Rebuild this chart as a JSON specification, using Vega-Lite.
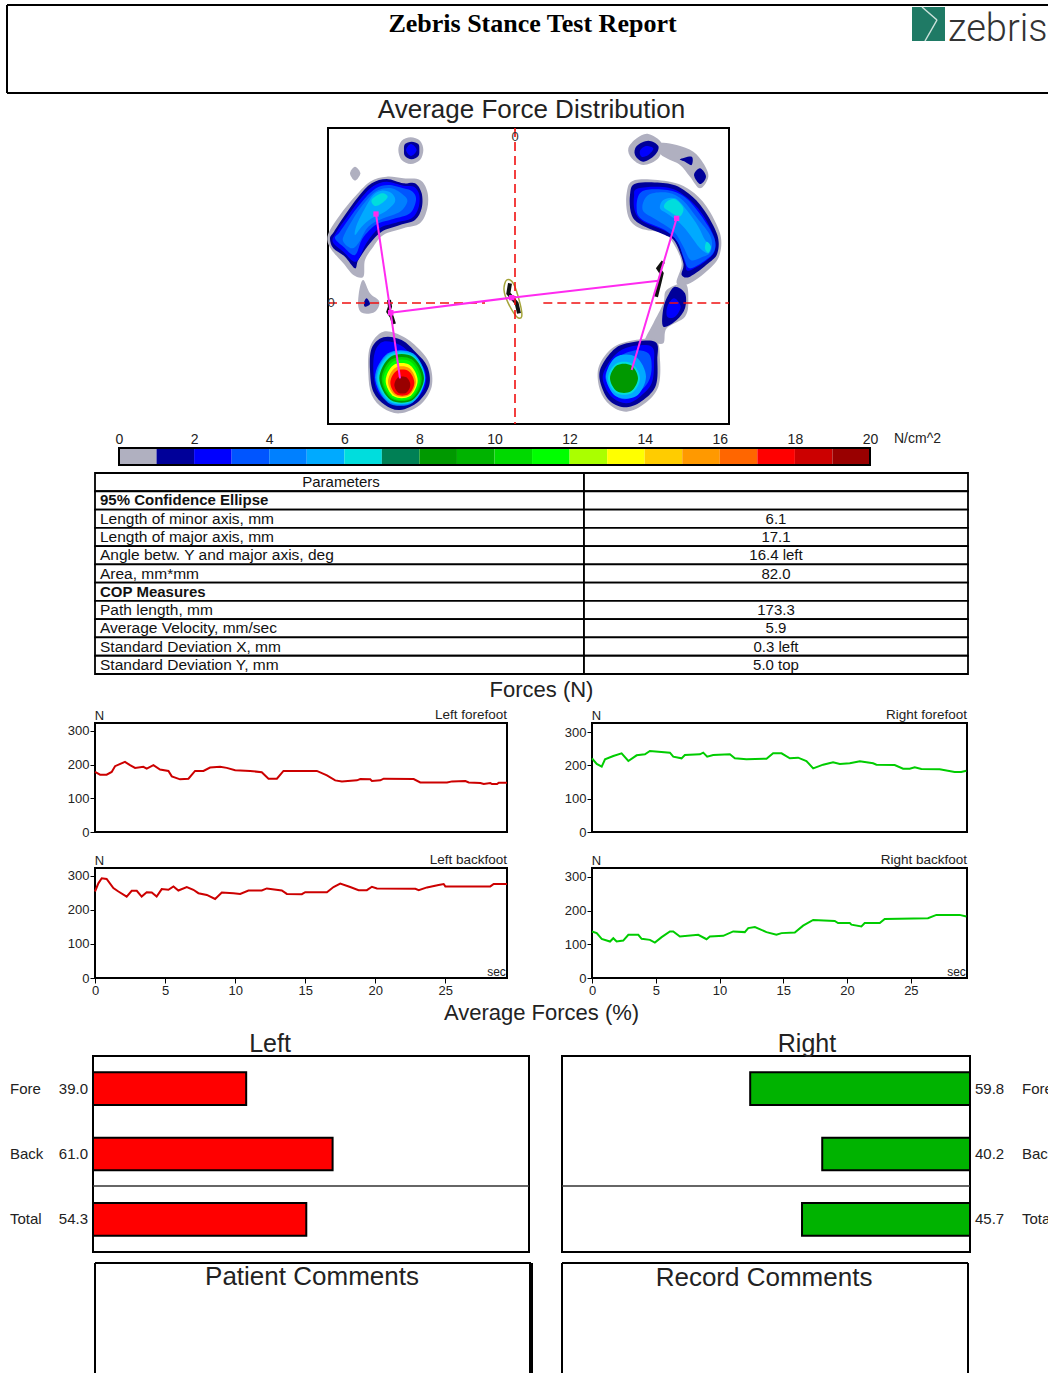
{"$schema":"https://vega.github.io/schema/vega-lite/v6.json","padding":0,"background":"white","bounds":"full","spacing":0,
"config":{"font":"Liberation Sans","view":{"stroke":null},"axis":{"grid":false,"domain":false,"labelColor":"#222","tickColor":"#000","titleColor":"#222","titleFontWeight":"normal","labelFont":"Liberation Sans","titleFont":"Liberation Sans"},"title":{"font":"Liberation Sans","fontWeight":"normal","color":"#222","frame":"group"}},
"data":{"values":[{"k":0}]},
"datasets":{
"polys":[
{"id":"g1","l":0,"s":1,"x":272,"y":52},{"id":"g1","l":0,"s":2,"x":300,"y":62},{"id":"g1","l":0,"s":3,"x":310,"y":90},{"id":"g1","l":0,"s":4,"x":300,"y":120},{"id":"g1","l":0,"s":5,"x":272,"y":132},{"id":"g1","l":0,"s":6,"x":245,"y":120},{"id":"g1","l":0,"s":7,"x":235,"y":90},{"id":"g1","l":0,"s":8,"x":245,"y":62},
{"id":"n1","l":1,"s":1,"x":275,"y":65},{"id":"n1","l":1,"s":2,"x":295,"y":72},{"id":"n1","l":1,"s":3,"x":298,"y":90},{"id":"n1","l":1,"s":4,"x":295,"y":108},{"id":"n1","l":1,"s":5,"x":275,"y":118},{"id":"n1","l":1,"s":6,"x":255,"y":108},{"id":"n1","l":1,"s":7,"x":252,"y":90},{"id":"n1","l":1,"s":8,"x":255,"y":72},
{"id":"b1","l":2,"s":1,"x":273,"y":72},{"id":"b1","l":2,"s":2,"x":290,"y":90},{"id":"b1","l":2,"s":3,"x":273,"y":108},{"id":"b1","l":2,"s":4,"x":258,"y":90},
{"id":"g2","l":0,"s":1,"x":105,"y":140},{"id":"g2","l":0,"s":2,"x":121,"y":160},{"id":"g2","l":0,"s":3,"x":105,"y":182},{"id":"g2","l":0,"s":4,"x":90,"y":160},
{"id":"g3","l":0,"s":1,"x":30,"y":330},{"id":"g3","l":0,"s":2,"x":60,"y":285},{"id":"g3","l":0,"s":3,"x":100,"y":235},{"id":"g3","l":0,"s":4,"x":150,"y":185},{"id":"g3","l":0,"s":5,"x":200,"y":170},{"id":"g3","l":0,"s":6,"x":250,"y":175},{"id":"g3","l":0,"s":7,"x":300,"y":180},{"id":"g3","l":0,"s":8,"x":322,"y":215},{"id":"g3","l":0,"s":9,"x":322,"y":265},{"id":"g3","l":0,"s":10,"x":300,"y":310},{"id":"g3","l":0,"s":11,"x":250,"y":325},{"id":"g3","l":0,"s":12,"x":190,"y":345},{"id":"g3","l":0,"s":13,"x":160,"y":380},{"id":"g3","l":0,"s":14,"x":135,"y":420},{"id":"g3","l":0,"s":15,"x":130,"y":470},{"id":"g3","l":0,"s":16,"x":100,"y":465},{"id":"g3","l":0,"s":17,"x":70,"y":430},{"id":"g3","l":0,"s":18,"x":35,"y":390},{"id":"g3","l":0,"s":19,"x":22,"y":360},
{"id":"n3","l":1,"s":1,"x":42,"y":335},{"id":"n3","l":1,"s":2,"x":75,"y":285},{"id":"n3","l":1,"s":3,"x":115,"y":230},{"id":"n3","l":1,"s":4,"x":155,"y":190},{"id":"n3","l":1,"s":5,"x":200,"y":177},{"id":"n3","l":1,"s":6,"x":250,"y":190},{"id":"n3","l":1,"s":7,"x":285,"y":190},{"id":"n3","l":1,"s":8,"x":305,"y":220},{"id":"n3","l":1,"s":9,"x":305,"y":265},{"id":"n3","l":1,"s":10,"x":285,"y":300},{"id":"n3","l":1,"s":11,"x":240,"y":315},{"id":"n3","l":1,"s":12,"x":185,"y":335},{"id":"n3","l":1,"s":13,"x":150,"y":370},{"id":"n3","l":1,"s":14,"x":115,"y":420},{"id":"n3","l":1,"s":15,"x":105,"y":445},{"id":"n3","l":1,"s":16,"x":75,"y":410},{"id":"n3","l":1,"s":17,"x":40,"y":385},{"id":"n3","l":1,"s":18,"x":30,"y":355},
{"id":"b3","l":2,"s":1,"x":50,"y":335},{"id":"b3","l":2,"s":2,"x":85,"y":285},{"id":"b3","l":2,"s":3,"x":125,"y":232},{"id":"b3","l":2,"s":4,"x":160,"y":198},{"id":"b3","l":2,"s":5,"x":200,"y":185},{"id":"b3","l":2,"s":6,"x":250,"y":197},{"id":"b3","l":2,"s":7,"x":282,"y":200},{"id":"b3","l":2,"s":8,"x":298,"y":225},{"id":"b3","l":2,"s":9,"x":295,"y":265},{"id":"b3","l":2,"s":10,"x":275,"y":295},{"id":"b3","l":2,"s":11,"x":228,"y":308},{"id":"b3","l":2,"s":12,"x":178,"y":325},{"id":"b3","l":2,"s":13,"x":140,"y":368},{"id":"b3","l":2,"s":14,"x":108,"y":425},{"id":"b3","l":2,"s":15,"x":70,"y":395},{"id":"b3","l":2,"s":16,"x":38,"y":365},
{"id":"c3","l":3,"s":1,"x":60,"y":335},{"id":"c3","l":3,"s":2,"x":95,"y":285},{"id":"c3","l":3,"s":3,"x":135,"y":235},{"id":"c3","l":3,"s":4,"x":168,"y":205},{"id":"c3","l":3,"s":5,"x":205,"y":195},{"id":"c3","l":3,"s":6,"x":250,"y":205},{"id":"c3","l":3,"s":7,"x":278,"y":215},{"id":"c3","l":3,"s":8,"x":288,"y":240},{"id":"c3","l":3,"s":9,"x":270,"y":280},{"id":"c3","l":3,"s":10,"x":220,"y":297},{"id":"c3","l":3,"s":11,"x":170,"y":313},{"id":"c3","l":3,"s":12,"x":128,"y":355},{"id":"c3","l":3,"s":13,"x":105,"y":405},{"id":"c3","l":3,"s":14,"x":70,"y":380},{"id":"c3","l":3,"s":15,"x":45,"y":355},
{"id":"d3","l":4,"s":1,"x":75,"y":340},{"id":"d3","l":4,"s":2,"x":110,"y":280},{"id":"d3","l":4,"s":3,"x":145,"y":235},{"id":"d3","l":4,"s":4,"x":175,"y":210},{"id":"d3","l":4,"s":5,"x":215,"y":205},{"id":"d3","l":4,"s":6,"x":250,"y":225},{"id":"d3","l":4,"s":7,"x":262,"y":245},{"id":"d3","l":4,"s":8,"x":240,"y":275},{"id":"d3","l":4,"s":9,"x":190,"y":295},{"id":"d3","l":4,"s":10,"x":145,"y":320},{"id":"d3","l":4,"s":11,"x":115,"y":370},{"id":"d3","l":4,"s":12,"x":95,"y":385},{"id":"d3","l":4,"s":13,"x":70,"y":365},
{"id":"e3","l":5,"s":1,"x":110,"y":315},{"id":"e3","l":5,"s":2,"x":135,"y":265},{"id":"e3","l":5,"s":3,"x":160,"y":225},{"id":"e3","l":5,"s":4,"x":185,"y":212},{"id":"e3","l":5,"s":5,"x":215,"y":220},{"id":"e3","l":5,"s":6,"x":225,"y":245},{"id":"e3","l":5,"s":7,"x":195,"y":275},{"id":"e3","l":5,"s":8,"x":155,"y":295},{"id":"e3","l":5,"s":9,"x":125,"y":320},{"id":"e3","l":5,"s":10,"x":105,"y":345},
{"id":"f3","l":6,"s":1,"x":155,"y":240},{"id":"f3","l":6,"s":2,"x":185,"y":220},{"id":"f3","l":6,"s":3,"x":203,"y":230},{"id":"f3","l":6,"s":4,"x":185,"y":250},{"id":"f3","l":6,"s":5,"x":165,"y":258},
{"id":"g4","l":0,"s":1,"x":130,"y":480},{"id":"g4","l":0,"s":2,"x":150,"y":520},{"id":"g4","l":0,"s":3,"x":178,"y":545},{"id":"g4","l":0,"s":4,"x":165,"y":575},{"id":"g4","l":0,"s":5,"x":130,"y":580},{"id":"g4","l":0,"s":6,"x":115,"y":560},{"id":"g4","l":0,"s":7,"x":118,"y":510},
{"id":"n4","l":1,"s":1,"x":140,"y":535},{"id":"n4","l":1,"s":2,"x":150,"y":552},{"id":"n4","l":1,"s":3,"x":135,"y":560},{"id":"n4","l":1,"s":4,"x":132,"y":548},
{"id":"g5","l":0,"s":1,"x":190,"y":635},{"id":"g5","l":0,"s":2,"x":250,"y":650},{"id":"g5","l":0,"s":3,"x":300,"y":690},{"id":"g5","l":0,"s":4,"x":330,"y":735},{"id":"g5","l":0,"s":5,"x":335,"y":800},{"id":"g5","l":0,"s":6,"x":300,"y":855},{"id":"g5","l":0,"s":7,"x":240,"y":880},{"id":"g5","l":0,"s":8,"x":190,"y":865},{"id":"g5","l":0,"s":9,"x":155,"y":825},{"id":"g5","l":0,"s":10,"x":145,"y":760},{"id":"g5","l":0,"s":11,"x":150,"y":680},
{"id":"n5","l":1,"s":1,"x":190,"y":652},{"id":"n5","l":1,"s":2,"x":245,"y":660},{"id":"n5","l":1,"s":3,"x":290,"y":700},{"id":"n5","l":1,"s":4,"x":322,"y":740},{"id":"n5","l":1,"s":5,"x":328,"y":795},{"id":"n5","l":1,"s":6,"x":295,"y":845},{"id":"n5","l":1,"s":7,"x":240,"y":870},{"id":"n5","l":1,"s":8,"x":195,"y":855},{"id":"n5","l":1,"s":9,"x":160,"y":815},{"id":"n5","l":1,"s":10,"x":150,"y":750},{"id":"n5","l":1,"s":11,"x":155,"y":685},
{"id":"b5","l":2,"s":1,"x":190,"y":665},{"id":"b5","l":2,"s":2,"x":240,"y":675},{"id":"b5","l":2,"s":3,"x":280,"y":710},{"id":"b5","l":2,"s":4,"x":315,"y":750},{"id":"b5","l":2,"s":5,"x":315,"y":800},{"id":"b5","l":2,"s":6,"x":285,"y":840},{"id":"b5","l":2,"s":7,"x":240,"y":858},{"id":"b5","l":2,"s":8,"x":200,"y":842},{"id":"b5","l":2,"s":9,"x":170,"y":810},{"id":"b5","l":2,"s":10,"x":160,"y":750},{"id":"b5","l":2,"s":11,"x":165,"y":695},
{"id":"h4","l":4,"s":1,"x":312,"y":772},{"id":"h4","l":4,"s":2,"x":278,"y":848},{"id":"h4","l":4,"s":3,"x":204,"y":848},{"id":"h4","l":4,"s":4,"x":165,"y":772},{"id":"h4","l":4,"s":5,"x":204,"y":700},{"id":"h4","l":4,"s":6,"x":278,"y":700},
{"id":"h5","l":5,"s":1,"x":316,"y":773},{"id":"h5","l":5,"s":2,"x":280,"y":845},{"id":"h5","l":5,"s":3,"x":206,"y":845},{"id":"h5","l":5,"s":4,"x":169,"y":773},{"id":"h5","l":5,"s":5,"x":206,"y":701},{"id":"h5","l":5,"s":6,"x":280,"y":701},
{"id":"h6","l":6,"s":1,"x":314,"y":774},{"id":"h6","l":6,"s":2,"x":278,"y":843},{"id":"h6","l":6,"s":3,"x":208,"y":843},{"id":"h6","l":6,"s":4,"x":172,"y":774},{"id":"h6","l":6,"s":5,"x":208,"y":705},{"id":"h6","l":6,"s":6,"x":278,"y":705},
{"id":"h8","l":8,"s":1,"x":312,"y":775},{"id":"h8","l":8,"s":2,"x":278,"y":840},{"id":"h8","l":8,"s":3,"x":212,"y":840},{"id":"h8","l":8,"s":4,"x":178,"y":775},{"id":"h8","l":8,"s":5,"x":212,"y":710},{"id":"h8","l":8,"s":6,"x":278,"y":710},
{"id":"h10","l":10,"s":1,"x":305,"y":777},{"id":"h10","l":10,"s":2,"x":275,"y":836},{"id":"h10","l":10,"s":3,"x":215,"y":836},{"id":"h10","l":10,"s":4,"x":185,"y":777},{"id":"h10","l":10,"s":5,"x":215,"y":718},{"id":"h10","l":10,"s":6,"x":275,"y":718},
{"id":"h11","l":11,"s":1,"x":300,"y":779},{"id":"h11","l":11,"s":2,"x":272,"y":833},{"id":"h11","l":11,"s":3,"x":218,"y":833},{"id":"h11","l":11,"s":4,"x":190,"y":779},{"id":"h11","l":11,"s":5,"x":218,"y":725},{"id":"h11","l":11,"s":6,"x":272,"y":725},
{"id":"h13","l":13,"s":1,"x":293,"y":782},{"id":"h13","l":13,"s":2,"x":269,"y":829},{"id":"h13","l":13,"s":3,"x":221,"y":829},{"id":"h13","l":13,"s":4,"x":197,"y":782},{"id":"h13","l":13,"s":5,"x":221,"y":735},{"id":"h13","l":13,"s":6,"x":269,"y":735},
{"id":"h15","l":15,"s":1,"x":288,"y":785},{"id":"h15","l":15,"s":2,"x":267,"y":826},{"id":"h15","l":15,"s":3,"x":225,"y":826},{"id":"h15","l":15,"s":4,"x":204,"y":785},{"id":"h15","l":15,"s":5,"x":225,"y":744},{"id":"h15","l":15,"s":6,"x":267,"y":744},
{"id":"h17","l":17,"s":1,"x":283,"y":788},{"id":"h17","l":17,"s":2,"x":265,"y":823},{"id":"h17","l":17,"s":3,"x":229,"y":823},{"id":"h17","l":17,"s":4,"x":211,"y":788},{"id":"h17","l":17,"s":5,"x":229,"y":753},{"id":"h17","l":17,"s":6,"x":265,"y":753},
{"id":"h19","l":19,"s":1,"x":271,"y":795},{"id":"h19","l":19,"s":2,"x":259,"y":818},{"id":"h19","l":19,"s":3,"x":235,"y":818},{"id":"h19","l":19,"s":4,"x":223,"y":795},{"id":"h19","l":19,"s":5,"x":235,"y":772},{"id":"h19","l":19,"s":6,"x":259,"y":772},
{"id":"r1","l":0,"s":1,"x":985,"y":42},{"id":"r1","l":0,"s":2,"x":1025,"y":70},{"id":"r1","l":0,"s":3,"x":1015,"y":115},{"id":"r1","l":0,"s":4,"x":970,"y":135},{"id":"r1","l":0,"s":5,"x":935,"y":115},{"id":"r1","l":0,"s":6,"x":925,"y":85},{"id":"r1","l":0,"s":7,"x":950,"y":55},
{"id":"r2","l":0,"s":1,"x":1020,"y":70},{"id":"r2","l":0,"s":2,"x":1070,"y":75},{"id":"r2","l":0,"s":3,"x":1120,"y":95},{"id":"r2","l":0,"s":4,"x":1150,"y":130},{"id":"r2","l":0,"s":5,"x":1165,"y":170},{"id":"r2","l":0,"s":6,"x":1140,"y":205},{"id":"r2","l":0,"s":7,"x":1110,"y":170},{"id":"r2","l":0,"s":8,"x":1080,"y":135},{"id":"r2","l":0,"s":9,"x":1040,"y":115},{"id":"r2","l":0,"s":10,"x":1020,"y":100},
{"id":"r3","l":1,"s":1,"x":985,"y":62},{"id":"r3","l":1,"s":2,"x":1015,"y":78},{"id":"r3","l":1,"s":3,"x":1005,"y":105},{"id":"r3","l":1,"s":4,"x":970,"y":125},{"id":"r3","l":1,"s":5,"x":945,"y":105},{"id":"r3","l":1,"s":6,"x":950,"y":78},
{"id":"r4","l":2,"s":1,"x":978,"y":78},{"id":"r4","l":2,"s":2,"x":1000,"y":85},{"id":"r4","l":2,"s":3,"x":985,"y":105},{"id":"r4","l":2,"s":4,"x":965,"y":110},{"id":"r4","l":2,"s":5,"x":960,"y":92},
{"id":"r5","l":1,"s":1,"x":1140,"y":145},{"id":"r5","l":1,"s":2,"x":1158,"y":170},{"id":"r5","l":1,"s":3,"x":1140,"y":192},{"id":"r5","l":1,"s":4,"x":1122,"y":165},
{"id":"r6","l":1,"s":1,"x":1080,"y":118},{"id":"r6","l":1,"s":2,"x":1115,"y":110},{"id":"r6","l":1,"s":3,"x":1115,"y":135},{"id":"r6","l":1,"s":4,"x":1095,"y":125},
{"id":"r7","l":0,"s":1,"x":945,"y":180},{"id":"r7","l":0,"s":2,"x":1050,"y":185},{"id":"r7","l":0,"s":3,"x":1110,"y":210},{"id":"r7","l":0,"s":4,"x":1160,"y":260},{"id":"r7","l":0,"s":5,"x":1200,"y":340},{"id":"r7","l":0,"s":6,"x":1200,"y":400},{"id":"r7","l":0,"s":7,"x":1175,"y":440},{"id":"r7","l":0,"s":8,"x":1110,"y":490},{"id":"r7","l":0,"s":9,"x":1070,"y":490},{"id":"r7","l":0,"s":10,"x":1085,"y":430},{"id":"r7","l":0,"s":11,"x":1060,"y":370},{"id":"r7","l":0,"s":12,"x":1030,"y":340},{"id":"r7","l":0,"s":13,"x":960,"y":325},{"id":"r7","l":0,"s":14,"x":925,"y":290},{"id":"r7","l":0,"s":15,"x":920,"y":220},
{"id":"r8","l":0,"s":1,"x":1095,"y":490},{"id":"r8","l":0,"s":2,"x":1105,"y":540},{"id":"r8","l":0,"s":3,"x":1095,"y":590},{"id":"r8","l":0,"s":4,"x":1040,"y":625},{"id":"r8","l":0,"s":5,"x":1030,"y":670},{"id":"r8","l":0,"s":6,"x":995,"y":665},{"id":"r8","l":0,"s":7,"x":975,"y":660},{"id":"r8","l":0,"s":8,"x":1000,"y":610},{"id":"r8","l":0,"s":9,"x":1030,"y":550},{"id":"r8","l":0,"s":10,"x":1040,"y":510},
{"id":"r9","l":1,"s":1,"x":950,"y":190},{"id":"r9","l":1,"s":2,"x":1050,"y":192},{"id":"r9","l":1,"s":3,"x":1105,"y":220},{"id":"r9","l":1,"s":4,"x":1152,"y":270},{"id":"r9","l":1,"s":5,"x":1192,"y":345},{"id":"r9","l":1,"s":6,"x":1192,"y":400},{"id":"r9","l":1,"s":7,"x":1165,"y":430},{"id":"r9","l":1,"s":8,"x":1110,"y":470},{"id":"r9","l":1,"s":9,"x":1085,"y":465},{"id":"r9","l":1,"s":10,"x":1090,"y":430},{"id":"r9","l":1,"s":11,"x":1065,"y":365},{"id":"r9","l":1,"s":12,"x":1035,"y":345},{"id":"r9","l":1,"s":13,"x":965,"y":315},{"id":"r9","l":1,"s":14,"x":935,"y":285},{"id":"r9","l":1,"s":15,"x":930,"y":225},
{"id":"r10","l":2,"s":1,"x":955,"y":205},{"id":"r10","l":2,"s":2,"x":1045,"y":203},{"id":"r10","l":2,"s":3,"x":1100,"y":232},{"id":"r10","l":2,"s":4,"x":1145,"y":280},{"id":"r10","l":2,"s":5,"x":1182,"y":350},{"id":"r10","l":2,"s":6,"x":1183,"y":395},{"id":"r10","l":2,"s":7,"x":1155,"y":425},{"id":"r10","l":2,"s":8,"x":1105,"y":452},{"id":"r10","l":2,"s":9,"x":1095,"y":430},{"id":"r10","l":2,"s":10,"x":1075,"y":370},{"id":"r10","l":2,"s":11,"x":1040,"y":335},{"id":"r10","l":2,"s":12,"x":970,"y":305},{"id":"r10","l":2,"s":13,"x":945,"y":275},{"id":"r10","l":2,"s":14,"x":942,"y":230},
{"id":"r11","l":3,"s":1,"x":965,"y":215},{"id":"r11","l":3,"s":2,"x":1042,"y":210},{"id":"r11","l":3,"s":3,"x":1095,"y":232},{"id":"r11","l":3,"s":4,"x":1142,"y":285},{"id":"r11","l":3,"s":5,"x":1182,"y":352},{"id":"r11","l":3,"s":6,"x":1182,"y":395},{"id":"r11","l":3,"s":7,"x":1150,"y":425},{"id":"r11","l":3,"s":8,"x":1108,"y":445},{"id":"r11","l":3,"s":9,"x":1092,"y":415},{"id":"r11","l":3,"s":10,"x":1072,"y":365},{"id":"r11","l":3,"s":11,"x":1035,"y":330},{"id":"r11","l":3,"s":12,"x":968,"y":300},{"id":"r11","l":3,"s":13,"x":950,"y":268},
{"id":"r12","l":4,"s":1,"x":985,"y":225},{"id":"r12","l":4,"s":2,"x":1045,"y":218},{"id":"r12","l":4,"s":3,"x":1090,"y":242},{"id":"r12","l":4,"s":4,"x":1132,"y":295},{"id":"r12","l":4,"s":5,"x":1172,"y":350},{"id":"r12","l":4,"s":6,"x":1172,"y":395},{"id":"r12","l":4,"s":7,"x":1145,"y":412},{"id":"r12","l":4,"s":8,"x":1112,"y":420},{"id":"r12","l":4,"s":9,"x":1090,"y":380},{"id":"r12","l":4,"s":10,"x":1062,"y":335},{"id":"r12","l":4,"s":11,"x":1010,"y":300},{"id":"r12","l":4,"s":12,"x":968,"y":270},
{"id":"r13","l":5,"s":1,"x":1030,"y":240},{"id":"r13","l":5,"s":2,"x":1065,"y":235},{"id":"r13","l":5,"s":3,"x":1100,"y":270},{"id":"r13","l":5,"s":4,"x":1135,"y":320},{"id":"r13","l":5,"s":5,"x":1155,"y":360},{"id":"r13","l":5,"s":6,"x":1170,"y":375},{"id":"r13","l":5,"s":7,"x":1165,"y":400},{"id":"r13","l":5,"s":8,"x":1140,"y":385},{"id":"r13","l":5,"s":9,"x":1110,"y":345},{"id":"r13","l":5,"s":10,"x":1080,"y":310},{"id":"r13","l":5,"s":11,"x":1040,"y":280},{"id":"r13","l":5,"s":12,"x":1020,"y":265},
{"id":"r14","l":6,"s":1,"x":1040,"y":245},{"id":"r14","l":6,"s":2,"x":1065,"y":238},{"id":"r14","l":6,"s":3,"x":1090,"y":265},{"id":"r14","l":6,"s":4,"x":1078,"y":290},{"id":"r14","l":6,"s":5,"x":1050,"y":275},{"id":"r14","l":6,"s":6,"x":1032,"y":262},
{"id":"r15","l":6,"s":1,"x":1160,"y":365},{"id":"r15","l":6,"s":2,"x":1173,"y":380},{"id":"r15","l":6,"s":3,"x":1165,"y":398},{"id":"r15","l":6,"s":4,"x":1155,"y":385},
{"id":"r16","l":1,"s":1,"x":1065,"y":500},{"id":"r16","l":1,"s":2,"x":1095,"y":520},{"id":"r16","l":1,"s":3,"x":1095,"y":565},{"id":"r16","l":1,"s":4,"x":1070,"y":600},{"id":"r16","l":1,"s":5,"x":1030,"y":620},{"id":"r16","l":1,"s":6,"x":1030,"y":565},{"id":"r16","l":1,"s":7,"x":1045,"y":525},
{"id":"r17","l":2,"s":1,"x":1062,"y":535},{"id":"r17","l":2,"s":2,"x":1082,"y":560},{"id":"r17","l":2,"s":3,"x":1065,"y":590},{"id":"r17","l":2,"s":4,"x":1042,"y":590},{"id":"r17","l":2,"s":5,"x":1042,"y":560},
{"id":"r18","l":0,"s":1,"x":920,"y":665},{"id":"r18","l":0,"s":2,"x":1005,"y":660},{"id":"r18","l":0,"s":3,"x":1020,"y":720},{"id":"r18","l":0,"s":4,"x":1015,"y":800},{"id":"r18","l":0,"s":5,"x":975,"y":850},{"id":"r18","l":0,"s":6,"x":920,"y":875},{"id":"r18","l":0,"s":7,"x":870,"y":855},{"id":"r18","l":0,"s":8,"x":840,"y":810},{"id":"r18","l":0,"s":9,"x":835,"y":745},{"id":"r18","l":0,"s":10,"x":870,"y":690},
{"id":"r19","l":1,"s":1,"x":920,"y":670},{"id":"r19","l":1,"s":2,"x":1005,"y":665},{"id":"r19","l":1,"s":3,"x":1012,"y":720},{"id":"r19","l":1,"s":4,"x":1008,"y":795},{"id":"r19","l":1,"s":5,"x":970,"y":840},{"id":"r19","l":1,"s":6,"x":920,"y":862},{"id":"r19","l":1,"s":7,"x":872,"y":845},{"id":"r19","l":1,"s":8,"x":845,"y":800},{"id":"r19","l":1,"s":9,"x":840,"y":750},{"id":"r19","l":1,"s":10,"x":875,"y":695},
{"id":"r20","l":2,"s":1,"x":930,"y":680},{"id":"r20","l":2,"s":2,"x":995,"y":680},{"id":"r20","l":2,"s":3,"x":1002,"y":730},{"id":"r20","l":2,"s":4,"x":995,"y":790},{"id":"r20","l":2,"s":5,"x":960,"y":830},{"id":"r20","l":2,"s":6,"x":920,"y":850},{"id":"r20","l":2,"s":7,"x":880,"y":835},{"id":"r20","l":2,"s":8,"x":855,"y":800},{"id":"r20","l":2,"s":9,"x":850,"y":760},{"id":"r20","l":2,"s":10,"x":885,"y":705},
{"id":"r21","l":3,"s":1,"x":940,"y":692},{"id":"r21","l":3,"s":2,"x":985,"y":700},{"id":"r21","l":3,"s":3,"x":995,"y":740},{"id":"r21","l":3,"s":4,"x":985,"y":785},{"id":"r21","l":3,"s":5,"x":950,"y":822},{"id":"r21","l":3,"s":6,"x":915,"y":838},{"id":"r21","l":3,"s":7,"x":885,"y":825},{"id":"r21","l":3,"s":8,"x":862,"y":790},{"id":"r21","l":3,"s":9,"x":858,"y":760},{"id":"r21","l":3,"s":10,"x":890,"y":715},
{"id":"r22","l":5,"s":1,"x":978,"y":770},{"id":"r22","l":5,"s":2,"x":948,"y":829},{"id":"r22","l":5,"s":3,"x":888,"y":829},{"id":"r22","l":5,"s":4,"x":858,"y":770},{"id":"r22","l":5,"s":5,"x":888,"y":711},{"id":"r22","l":5,"s":6,"x":948,"y":711},
{"id":"r23","l":6,"s":1,"x":960,"y":775},{"id":"r23","l":6,"s":2,"x":936,"y":819},{"id":"r23","l":6,"s":3,"x":888,"y":819},{"id":"r23","l":6,"s":4,"x":864,"y":775},{"id":"r23","l":6,"s":5,"x":888,"y":731},{"id":"r23","l":6,"s":6,"x":936,"y":731},
{"id":"r24","l":8,"s":1,"x":954,"y":775},{"id":"r24","l":8,"s":2,"x":933,"y":814},{"id":"r24","l":8,"s":3,"x":891,"y":814},{"id":"r24","l":8,"s":4,"x":870,"y":775},{"id":"r24","l":8,"s":5,"x":891,"y":736},{"id":"r24","l":8,"s":6,"x":933,"y":736}
],
"traces":[
{"id":"t1","s":1,"x":207,"y":540},{"id":"t1","s":2,"x":210,"y":560},{"id":"t1","s":3,"x":205,"y":575},{"id":"t1","s":4,"x":215,"y":590},{"id":"t1","s":5,"x":222,"y":612},
{"id":"t2","s":1,"x":1030,"y":425},{"id":"t2","s":2,"x":1015,"y":445},{"id":"t2","s":3,"x":1025,"y":460},{"id":"t2","s":4,"x":1018,"y":490},{"id":"t2","s":5,"x":1008,"y":530},
{"id":"t3","s":1,"x":570,"y":490},{"id":"t3","s":2,"x":565,"y":520},{"id":"t3","s":3,"x":590,"y":550},{"id":"t3","s":4,"x":597,"y":580}
],
"ellipse":[{"s":1,"x":560,"y":480},{"s":2,"x":580,"y":490},{"s":3,"x":600,"y":550},{"s":4,"x":605,"y":590},{"s":5,"x":590,"y":590},{"s":6,"x":565,"y":550},{"s":7,"x":552,"y":510}],
"segments":[
{"k":"cross","x":585,"y":24,"x2":585,"y2":912},{"k":"cross","x":24,"y":549,"x2":495,"y2":549},{"k":"cross","x":670,"y":549,"x2":1227,"y2":549},
{"k":"pink","x":168,"y":282,"x2":212,"y2":578},{"k":"pink","x":212,"y":578,"x2":240,"y2":775},{"k":"pink","x":212,"y":578,"x2":575,"y2":533},{"k":"pink","x":575,"y":533,"x2":1015,"y2":482},{"k":"pink","x":1070,"y":295,"x2":935,"y2":750}
],
"zeros":[{"label":"0","x":585,"y":50},{"label":"0","x":33,"y":549}],
"colorbar":[{"a":0,"b":1,"l":0},{"a":1,"b":2,"l":1},{"a":2,"b":3,"l":2},{"a":3,"b":4,"l":3},{"a":4,"b":5,"l":4},{"a":5,"b":6,"l":5},{"a":6,"b":7,"l":6},{"a":7,"b":8,"l":7},{"a":8,"b":9,"l":8},{"a":9,"b":10,"l":9},{"a":10,"b":11,"l":10},{"a":11,"b":12,"l":11},{"a":12,"b":13,"l":12},{"a":13,"b":14,"l":13},{"a":14,"b":15,"l":14},{"a":15,"b":16,"l":15},{"a":16,"b":17,"l":16},{"a":17,"b":18,"l":17},{"a":18,"b":19,"l":18},{"a":19,"b":20,"l":19}],
"table":[
{"r":0,"param":"Parameters","value":"","kind":"head"},
{"r":1,"param":"95% Confidence Ellipse","value":"","kind":"bold"},
{"r":2,"param":"Length of minor axis, mm","value":"6.1","kind":"row"},
{"r":3,"param":"Length of major axis, mm","value":"17.1","kind":"row"},
{"r":4,"param":"Angle betw. Y and major axis, deg","value":"16.4 left","kind":"row"},
{"r":5,"param":"Area, mm*mm","value":"82.0","kind":"row"},
{"r":6,"param":"COP Measures","value":"","kind":"bold"},
{"r":7,"param":"Path length, mm","value":"173.3","kind":"row"},
{"r":8,"param":"Average Velocity, mm/sec","value":"5.9","kind":"row"},
{"r":9,"param":"Standard Deviation X, mm","value":"0.3 left","kind":"row"},
{"r":10,"param":"Standard Deviation Y, mm","value":"5.0 top","kind":"row"}
],
"forces":[
{"p":"LF","t":0,"v":178},{"p":"LF","t":0.36,"v":170},{"p":"LF","t":0.83,"v":170},{"p":"LF","t":1.19,"v":178},{"p":"LF","t":1.43,"v":195},{"p":"LF","t":2.14,"v":208},{"p":"LF","t":2.5,"v":198},{"p":"LF","t":2.86,"v":190},{"p":"LF","t":3.45,"v":193},{"p":"LF","t":3.69,"v":188},{"p":"LF","t":4.17,"v":198},{"p":"LF","t":4.64,"v":185},{"p":"LF","t":5.24,"v":181},{"p":"LF","t":5.48,"v":165},{"p":"LF","t":6.07,"v":156},{"p":"LF","t":6.67,"v":158},{"p":"LF","t":7.14,"v":181},{"p":"LF","t":7.74,"v":181},{"p":"LF","t":8.21,"v":191},{"p":"LF","t":8.93,"v":193},{"p":"LF","t":9.4,"v":190},{"p":"LF","t":10,"v":183},{"p":"LF","t":11.07,"v":181},{"p":"LF","t":11.9,"v":177},{"p":"LF","t":12.38,"v":158},{"p":"LF","t":12.98,"v":158},{"p":"LF","t":13.45,"v":181},{"p":"LF","t":15.83,"v":181},{"p":"LF","t":16.55,"v":168},{"p":"LF","t":17.14,"v":153},{"p":"LF","t":17.62,"v":150},{"p":"LF","t":18.69,"v":153},{"p":"LF","t":18.93,"v":157},{"p":"LF","t":19.64,"v":156},{"p":"LF","t":19.76,"v":151},{"p":"LF","t":20.36,"v":153},{"p":"LF","t":20.6,"v":158},{"p":"LF","t":22.74,"v":157},{"p":"LF","t":23.21,"v":147},{"p":"LF","t":25.12,"v":147},{"p":"LF","t":25.48,"v":150},{"p":"LF","t":26.43,"v":151},{"p":"LF","t":26.67,"v":147},{"p":"LF","t":27.5,"v":145},{"p":"LF","t":27.74,"v":142},{"p":"LF","t":28.21,"v":145},{"p":"LF","t":28.33,"v":142},{"p":"LF","t":28.69,"v":142},{"p":"LF","t":28.81,"v":146},{"p":"LF","t":29.4,"v":146},
{"p":"LB","t":0,"v":254},{"p":"LB","t":0.24,"v":278},{"p":"LB","t":0.48,"v":293},{"p":"LB","t":0.83,"v":291},{"p":"LB","t":1.31,"v":264},{"p":"LB","t":1.67,"v":254},{"p":"LB","t":2.26,"v":239},{"p":"LB","t":2.62,"v":256},{"p":"LB","t":2.98,"v":256},{"p":"LB","t":3.33,"v":239},{"p":"LB","t":3.69,"v":252},{"p":"LB","t":4.05,"v":251},{"p":"LB","t":4.4,"v":239},{"p":"LB","t":4.76,"v":261},{"p":"LB","t":5.24,"v":259},{"p":"LB","t":5.6,"v":269},{"p":"LB","t":5.95,"v":257},{"p":"LB","t":6.55,"v":267},{"p":"LB","t":7.02,"v":259},{"p":"LB","t":7.38,"v":249},{"p":"LB","t":7.98,"v":244},{"p":"LB","t":8.57,"v":232},{"p":"LB","t":9.05,"v":251},{"p":"LB","t":9.88,"v":249},{"p":"LB","t":10.36,"v":247},{"p":"LB","t":10.95,"v":257},{"p":"LB","t":11.9,"v":257},{"p":"LB","t":12.26,"v":263},{"p":"LB","t":13.33,"v":257},{"p":"LB","t":13.69,"v":247},{"p":"LB","t":14.76,"v":246},{"p":"LB","t":15,"v":252},{"p":"LB","t":16.55,"v":252},{"p":"LB","t":17.02,"v":267},{"p":"LB","t":17.5,"v":277},{"p":"LB","t":18.21,"v":267},{"p":"LB","t":18.81,"v":258},{"p":"LB","t":19.4,"v":258},{"p":"LB","t":19.76,"v":268},{"p":"LB","t":20.12,"v":263},{"p":"LB","t":22.86,"v":262},{"p":"LB","t":23.1,"v":258},{"p":"LB","t":23.69,"v":266},{"p":"LB","t":24.52,"v":273},{"p":"LB","t":24.88,"v":276},{"p":"LB","t":25,"v":269},{"p":"LB","t":28.21,"v":269},{"p":"LB","t":28.45,"v":276},{"p":"LB","t":29.4,"v":276},
{"p":"RF","t":0,"v":221},{"p":"RF","t":0.37,"v":204},{"p":"RF","t":0.76,"v":196},{"p":"RF","t":1.02,"v":218},{"p":"RF","t":1.67,"v":228},{"p":"RF","t":2.32,"v":236},{"p":"RF","t":2.85,"v":213},{"p":"RF","t":3.5,"v":230},{"p":"RF","t":4.15,"v":233},{"p":"RF","t":4.54,"v":243},{"p":"RF","t":6.11,"v":238},{"p":"RF","t":6.37,"v":226},{"p":"RF","t":7.02,"v":221},{"p":"RF","t":7.28,"v":231},{"p":"RF","t":8.46,"v":233},{"p":"RF","t":8.72,"v":238},{"p":"RF","t":9.03,"v":226},{"p":"RF","t":9.5,"v":231},{"p":"RF","t":10.81,"v":233},{"p":"RF","t":11.2,"v":221},{"p":"RF","t":12.11,"v":218},{"p":"RF","t":13.68,"v":220},{"p":"RF","t":14.2,"v":236},{"p":"RF","t":14.86,"v":236},{"p":"RF","t":15.51,"v":221},{"p":"RF","t":16.16,"v":223},{"p":"RF","t":16.81,"v":213},{"p":"RF","t":17.34,"v":191},{"p":"RF","t":18.12,"v":202},{"p":"RF","t":18.9,"v":209},{"p":"RF","t":19.43,"v":204},{"p":"RF","t":20.21,"v":206},{"p":"RF","t":21,"v":212},{"p":"RF","t":22.04,"v":206},{"p":"RF","t":22.3,"v":202},{"p":"RF","t":23.73,"v":201},{"p":"RF","t":24.39,"v":190},{"p":"RF","t":24.91,"v":190},{"p":"RF","t":25.3,"v":194},{"p":"RF","t":25.82,"v":189},{"p":"RF","t":27.26,"v":188},{"p":"RF","t":28.43,"v":180},{"p":"RF","t":28.95,"v":180},{"p":"RF","t":29.35,"v":184},
{"p":"RB","t":0,"v":138},{"p":"RB","t":0.37,"v":133},{"p":"RB","t":0.76,"v":116},{"p":"RB","t":1.41,"v":108},{"p":"RB","t":1.67,"v":118},{"p":"RB","t":1.93,"v":108},{"p":"RB","t":2.45,"v":111},{"p":"RB","t":2.85,"v":128},{"p":"RB","t":3.63,"v":128},{"p":"RB","t":3.89,"v":116},{"p":"RB","t":4.54,"v":113},{"p":"RB","t":4.93,"v":105},{"p":"RB","t":5.46,"v":121},{"p":"RB","t":6.11,"v":138},{"p":"RB","t":6.37,"v":138},{"p":"RB","t":6.89,"v":123},{"p":"RB","t":8.33,"v":128},{"p":"RB","t":8.98,"v":115},{"p":"RB","t":9.24,"v":123},{"p":"RB","t":10.29,"v":125},{"p":"RB","t":11.07,"v":138},{"p":"RB","t":11.98,"v":136},{"p":"RB","t":12.25,"v":148},{"p":"RB","t":12.77,"v":151},{"p":"RB","t":13.68,"v":136},{"p":"RB","t":14.46,"v":128},{"p":"RB","t":14.86,"v":133},{"p":"RB","t":15.9,"v":135},{"p":"RB","t":16.55,"v":155},{"p":"RB","t":17.34,"v":172},{"p":"RB","t":19.03,"v":169},{"p":"RB","t":19.29,"v":163},{"p":"RB","t":20.21,"v":163},{"p":"RB","t":20.34,"v":158},{"p":"RB","t":21.12,"v":153},{"p":"RB","t":21.38,"v":163},{"p":"RB","t":22.56,"v":163},{"p":"RB","t":22.95,"v":175},{"p":"RB","t":26.34,"v":177},{"p":"RB","t":27,"v":187},{"p":"RB","t":28.82,"v":187},{"p":"RB","t":29.35,"v":182}
],
"avgLeft":[{"c":"Fore","v":39.0,"txt":"39.0"},{"c":"Back","v":61.0,"txt":"61.0"},{"c":"Total","v":54.3,"txt":"54.3"}],
"avgRight":[{"c":"Fore","v":59.8,"txt":"59.8"},{"c":"Back","v":40.2,"txt":"40.2"},{"c":"Total","v":45.7,"txt":"45.7"}]
},
"vconcat":[
{"width":1,"height":4,"mark":{"type":"rect","opacity":0}},
{"bounds":"flush","spacing":0,"hconcat":[
{"width":7,"height":88,"mark":{"type":"rect","opacity":0}},
{"width":1041,"height":88,
 "title":{"text":"Zebris Stance Test Report","font":"Liberation Serif","fontWeight":"bold","fontSize":26,"color":"#000","anchor":"middle","dx":5,"offset":-33},
 "encoding":{"x":{"datum":0,"type":"quantitative","scale":{"domain":[0,1041],"nice":false},"axis":null},"y":{"datum":0,"type":"quantitative","scale":{"domain":[88,0],"nice":false},"axis":null}},
 "layer":[
  {"mark":{"type":"rule","stroke":"#000","strokeWidth":2},"encoding":{"x":{"datum":0},"x2":{"datum":1041},"y":{"datum":0}}},
  {"mark":{"type":"rule","stroke":"#000","strokeWidth":2},"encoding":{"x":{"datum":0},"x2":{"datum":1041},"y":{"datum":88}}},
  {"mark":{"type":"rule","stroke":"#000","strokeWidth":2},"encoding":{"x":{"datum":0},"y":{"datum":0},"y2":{"datum":88}}},
  {"mark":{"type":"rect","fill":"#1f7a65"},"encoding":{"x":{"datum":905},"x2":{"datum":938},"y":{"datum":2},"y2":{"datum":36}}},
  {"mark":{"type":"rule","stroke":"#cfe3dc","strokeWidth":1.5},"encoding":{"x":{"datum":915},"x2":{"datum":930},"y":{"datum":2},"y2":{"datum":15}}},
  {"mark":{"type":"rule","stroke":"#cfe3dc","strokeWidth":1.5},"encoding":{"x":{"datum":930},"x2":{"datum":918},"y":{"datum":15},"y2":{"datum":36}}},
  {"mark":{"type":"text","text":"zebris","font":"Roboto","fontWeight":300,"fontSize":38,"align":"left","baseline":"alphabetic","color":"#333"},"encoding":{"x":{"datum":941},"y":{"datum":36}}}
 ]}
]},
{"width":1,"height":2,"mark":{"type":"rect","opacity":0}},
{"bounds":"flush","spacing":0,"hconcat":[
{"width":328,"height":296,"mark":{"type":"rect","opacity":0}},
{"width":401,"height":296,"view":{"stroke":"#000","strokeWidth":2},
 "title":{"text":"Average Force Distribution","fontSize":26,"anchor":"middle","dx":3,"offset":4},
 "layer":[
  {"data":{"name":"polys"},"mark":{"type":"line","filled":true,"interpolate":"cardinal-closed","strokeWidth":0},
   "encoding":{"x":{"field":"x","type":"quantitative","scale":{"domain":[24,1227],"nice":false,"zero":false},"axis":null},
    "y":{"field":"y","type":"quantitative","scale":{"domain":[912,24],"nice":false,"zero":false},"axis":null},
    "detail":{"field":"id"},"order":{"field":"s"},
    "color":{"field":"l","type":"ordinal","legend":null,"scale":{"domain":[0,1,2,3,4,5,6,7,8,9,10,11,12,13,14,15,16,17,18,19],"range":["#b0b0c0","#000099","#0000ff","#0055ff","#0080ff","#00aaff","#00dddd","#008055","#009900","#00b300","#00d900","#00ff00","#aaff00","#ffff00","#ffcc00","#ff9900","#ff6600","#ff0000","#cc0000","#990000"]}}}},
  {"data":{"name":"traces"},"mark":{"type":"line","stroke":"#111","strokeWidth":4},"encoding":{"x":{"field":"x","type":"quantitative"},"y":{"field":"y","type":"quantitative"},"detail":{"field":"id"},"order":{"field":"s"}}},
  {"data":{"name":"ellipse"},"mark":{"type":"line","stroke":"#a5a53a","strokeWidth":1.5,"interpolate":"cardinal-closed"},"encoding":{"x":{"field":"x","type":"quantitative"},"y":{"field":"y","type":"quantitative"},"order":{"field":"s"}}},
  {"data":{"name":"segments"},"transform":[{"filter":"datum.k=='cross'"}],"mark":{"type":"rule","stroke":"#f01010","strokeWidth":1.6,"strokeDash":[9,5]},"encoding":{"x":{"field":"x","type":"quantitative"},"y":{"field":"y","type":"quantitative"},"x2":{"field":"x2"},"y2":{"field":"y2"}}},
  {"data":{"name":"segments"},"transform":[{"filter":"datum.k=='pink'"}],"mark":{"type":"rule","stroke":"#ff2bf0","strokeWidth":2},"encoding":{"x":{"field":"x","type":"quantitative"},"y":{"field":"y","type":"quantitative"},"x2":{"field":"x2"},"y2":{"field":"y2"}}},
  {"data":{"name":"segments"},"transform":[{"filter":"datum.k=='pink'"}],"mark":{"type":"point","shape":"square","filled":true,"color":"#ff2bf0","size":28,"opacity":1},"encoding":{"x":{"field":"x","type":"quantitative"},"y":{"field":"y","type":"quantitative"}}},
  {"data":{"name":"zeros"},"mark":{"type":"text","fontSize":13,"color":"#333"},"encoding":{"x":{"field":"x","type":"quantitative"},"y":{"field":"y","type":"quantitative"},"text":{"field":"label"}}}
 ]}
]},
{"width":1,"height":5,"mark":{"type":"rect","opacity":0}},
{"bounds":"flush","spacing":0,"hconcat":[
{"width":119,"height":17,"mark":{"type":"rect","opacity":0}},
{"width":751,"height":17,"data":{"name":"colorbar"},
 "layer":[
 {"mark":{"type":"rect"},
 "encoding":{"x":{"field":"a","type":"quantitative","scale":{"domain":[0,20],"nice":false},
   "axis":{"orient":"top","values":[0,2,4,6,8,10,12,14,16,18,20],"ticks":false,"labelFontSize":14,"labelPadding":2,"labelFlush":false,"title":"N/cm^2","titleFontSize":14,"titleX":798,"titleY":-3,"titleAlign":"center"}},
  "x2":{"field":"b"},
  "color":{"field":"l","type":"ordinal","legend":null,"scale":{"domain":[0,1,2,3,4,5,6,7,8,9,10,11,12,13,14,15,16,17,18,19],"range":["#b0b0c0","#000099","#0000ff","#0055ff","#0080ff","#00aaff","#00dddd","#008055","#009900","#00b300","#00d900","#00ff00","#aaff00","#ffff00","#ffcc00","#ff9900","#ff6600","#ff0000","#cc0000","#990000"]}}}},
 {"mark":{"type":"rect","fillOpacity":0,"stroke":"#000","strokeWidth":2},"encoding":{"x":{"datum":0,"type":"quantitative"},"x2":{"datum":20}}}
 ]}
]},
{"width":1,"height":6,"mark":{"type":"rect","opacity":0}},
{"bounds":"flush","spacing":0,"hconcat":[
{"width":95,"height":201,"mark":{"type":"rect","opacity":0}},
{"width":873,"height":201,"data":{"name":"table"},
 "encoding":{"y":{"field":"r","type":"ordinal","axis":null,"scale":{"type":"band","paddingInner":0,"paddingOuter":0}}},
 "layer":[
  {"mark":{"type":"rect","fill":"#fff","stroke":"#000","strokeWidth":1.8},"encoding":{"x":{"datum":0,"type":"quantitative","scale":{"domain":[0,873],"nice":false},"axis":null},"x2":{"datum":489}}},
  {"mark":{"type":"rect","fill":"#fff","stroke":"#000","strokeWidth":1.8},"encoding":{"x":{"datum":489,"type":"quantitative"},"x2":{"datum":873}}},
  {"transform":[{"filter":"datum.kind=='head'"}],"mark":{"type":"text","fontSize":15,"align":"center","color":"#111"},"encoding":{"x":{"datum":246,"type":"quantitative"},"text":{"field":"param"}}},
  {"transform":[{"filter":"datum.kind=='bold'"}],"mark":{"type":"text","fontSize":15,"fontWeight":"bold","align":"left","color":"#111"},"encoding":{"x":{"datum":5,"type":"quantitative"},"text":{"field":"param"}}},
  {"transform":[{"filter":"datum.kind=='row'"}],"mark":{"type":"text","fontSize":15.5,"align":"left","color":"#111"},"encoding":{"x":{"datum":5,"type":"quantitative"},"text":{"field":"param"}}},
  {"mark":{"type":"text","fontSize":15,"align":"center","color":"#111"},"encoding":{"x":{"datum":681,"type":"quantitative"},"text":{"field":"value"}}}
 ]}
]},
{"bounds":"flush","spacing":0,"hconcat":[
{"width":541,"height":31,"mark":{"type":"rect","opacity":0}},
{"width":1,"height":31,"title":{"text":"Forces (N)","fontSize":22,"anchor":"middle","offset":-27},"mark":{"type":"rect","opacity":0}}
]},
{"bounds":"flush","spacing":0,"hconcat":[
{"width":95,"height":109,"mark":{"type":"rect","opacity":0}},
{"width":412,"height":109,"view":{"stroke":"#000","strokeWidth":2},"data":{"name":"forces"},"transform":[{"filter":"datum.p=='LF'"}],
 "title":{"text":"Left forefoot","fontSize":13.5,"anchor":"end","offset":-12},
 "mark":{"type":"line","stroke":"#cc0000","strokeWidth":2},
 "encoding":{"x":{"field":"t","type":"quantitative","scale":{"domain":[0,29.4],"nice":false},"axis":null},
  "y":{"field":"v","type":"quantitative","scale":{"domain":[0,323],"nice":false},"axis":{"values":[0,100,200,300],"tickSize":5,"labelFontSize":13,"labelPadding":1,"title":"N","titleAngle":0,"titleFontSize":13,"titleX":4,"titleY":-4,"titleBaseline":"alphabetic","titleAlign":"center"}}}},
{"width":85,"height":109,"mark":{"type":"rect","opacity":0}},
{"width":375,"height":109,"view":{"stroke":"#000","strokeWidth":2},"data":{"name":"forces"},"transform":[{"filter":"datum.p=='RF'"}],
 "title":{"text":"Right forefoot","fontSize":13.5,"anchor":"end","offset":-12},
 "mark":{"type":"line","stroke":"#00cc00","strokeWidth":2},
 "encoding":{"x":{"field":"t","type":"quantitative","scale":{"domain":[0,29.4],"nice":false},"axis":null},
  "y":{"field":"v","type":"quantitative","scale":{"domain":[0,327],"nice":false},"axis":{"values":[0,100,200,300],"tickSize":5,"labelFontSize":13,"labelPadding":1,"title":"N","titleAngle":0,"titleFontSize":13,"titleX":4,"titleY":-4,"titleBaseline":"alphabetic","titleAlign":"center"}}}}
]},
{"width":1,"height":11,"mark":{"type":"rect","opacity":0}},
{"bounds":"flush","spacing":0,"hconcat":[
{"width":95,"height":110,"mark":{"type":"rect","opacity":0}},
{"width":412,"height":110,"view":{"stroke":"#000","strokeWidth":2},"data":{"name":"forces"},"transform":[{"filter":"datum.p=='LB'"}],
 "title":{"text":"Left backfoot","fontSize":13.5,"anchor":"end","offset":-12},
 "mark":{"type":"line","stroke":"#cc0000","strokeWidth":2},
 "encoding":{"x":{"field":"t","type":"quantitative","scale":{"domain":[0,29.4],"nice":false},"axis":{"values":[0,5,10,15,20,25],"tickSize":5,"labelFontSize":13,"labelPadding":1,"labelFlush":false,"title":"sec","titleFontSize":12,"titleX":401,"titleY":-3,"titleBaseline":"alphabetic","titleAlign":"center"}},
  "y":{"field":"v","type":"quantitative","scale":{"domain":[0,323],"nice":false},"axis":{"values":[0,100,200,300],"tickSize":5,"labelFontSize":13,"labelPadding":1,"title":"N","titleAngle":0,"titleFontSize":13,"titleX":4,"titleY":-4,"titleBaseline":"alphabetic","titleAlign":"center"}}}},
{"width":85,"height":110,"mark":{"type":"rect","opacity":0}},
{"width":375,"height":110,"view":{"stroke":"#000","strokeWidth":2},"data":{"name":"forces"},"transform":[{"filter":"datum.p=='RB'"}],
 "title":{"text":"Right backfoot","fontSize":13.5,"anchor":"end","offset":-12},
 "mark":{"type":"line","stroke":"#00cc00","strokeWidth":2},
 "encoding":{"x":{"field":"t","type":"quantitative","scale":{"domain":[0,29.4],"nice":false},"axis":{"values":[0,5,10,15,20,25],"tickSize":5,"labelFontSize":13,"labelPadding":1,"labelFlush":false,"title":"sec","titleFontSize":12,"titleX":364,"titleY":-3,"titleBaseline":"alphabetic","titleAlign":"center"}},
  "y":{"field":"v","type":"quantitative","scale":{"domain":[0,326],"nice":false},"axis":{"values":[0,100,200,300],"tickSize":5,"labelFontSize":13,"labelPadding":1,"title":"N","titleAngle":0,"titleFontSize":13,"titleX":4,"titleY":-4,"titleBaseline":"alphabetic","titleAlign":"center"}}}}
]},
{"bounds":"flush","spacing":0,"hconcat":[
{"width":541,"height":33,"mark":{"type":"rect","opacity":0}},
{"width":1,"height":33,"title":{"text":"Average Forces (%)","fontSize":22,"anchor":"middle","offset":-27},"mark":{"type":"rect","opacity":0}}
]},
{"bounds":"flush","spacing":0,"hconcat":[
{"width":93,"height":196,"mark":{"type":"rect","opacity":0}},
{"width":436,"height":196,"view":{"stroke":"#000","strokeWidth":2},"data":{"name":"avgLeft"},
 "title":{"text":"Left","fontSize":25,"anchor":"middle","dx":-41,"offset":-1},
 "encoding":{"y":{"field":"c","type":"nominal","axis":null,"scale":{"type":"band","domain":["Fore","Back","Total"],"paddingInner":0.5,"paddingOuter":0.25}}},
 "layer":[
  {"mark":{"type":"bar","fill":"#ff0000","stroke":"#000","strokeWidth":2},"encoding":{"x":{"field":"v","type":"quantitative","scale":{"domain":[0,111],"nice":false},"axis":null}}},
  {"transform":[{"filter":"datum.c=='Total'"}],"mark":{"type":"rule","stroke":"#333","strokeWidth":1.6,"yOffset":-17},"encoding":{"y":{"field":"c","type":"nominal","bandPosition":0}}},
  {"mark":{"type":"text","align":"right","dx":-5,"fontSize":15,"color":"#222"},"encoding":{"x":{"datum":0,"type":"quantitative"},"text":{"field":"txt"}}},
  {"mark":{"type":"text","align":"left","dx":-83,"fontSize":15,"color":"#222"},"encoding":{"x":{"datum":0,"type":"quantitative"},"text":{"field":"c"}}}
 ]},
{"width":33,"height":196,"mark":{"type":"rect","opacity":0}},
{"width":408,"height":196,"view":{"stroke":"#000","strokeWidth":2},"data":{"name":"avgRight"},
 "title":{"text":"Right","fontSize":25,"anchor":"middle","dx":41,"offset":-1},
 "encoding":{"y":{"field":"c","type":"nominal","axis":null,"scale":{"type":"band","domain":["Fore","Back","Total"],"paddingInner":0.5,"paddingOuter":0.25}}},
 "layer":[
  {"mark":{"type":"bar","fill":"#00b300","stroke":"#000","strokeWidth":2},"encoding":{"x":{"field":"v","type":"quantitative","scale":{"domain":[0,111],"reverse":true,"nice":false},"axis":null}}},
  {"transform":[{"filter":"datum.c=='Total'"}],"mark":{"type":"rule","stroke":"#333","strokeWidth":1.6,"yOffset":-17},"encoding":{"y":{"field":"c","type":"nominal","bandPosition":0}}},
  {"mark":{"type":"text","align":"left","dx":5,"fontSize":15,"color":"#222"},"encoding":{"x":{"datum":0,"type":"quantitative"},"text":{"field":"txt"}}},
  {"mark":{"type":"text","align":"left","dx":52,"fontSize":15,"color":"#222"},"encoding":{"x":{"datum":0,"type":"quantitative"},"text":{"field":"c"}}}
 ]}
]},
{"width":1,"height":8,"mark":{"type":"rect","opacity":0}},
{"bounds":"flush","spacing":0,"hconcat":[
{"width":95,"height":110,"mark":{"type":"rect","opacity":0}},
{"width":436,"height":110,"title":{"text":"Patient Comments","fontSize":26,"anchor":"middle","dx":-1,"offset":-29},
 "layer":[
  {"mark":{"type":"rule","stroke":"#000","strokeWidth":2},"encoding":{"x":{"datum":0,"type":"quantitative","scale":{"domain":[0,1]},"axis":null}}},
  {"mark":{"type":"rule","stroke":"#000","strokeWidth":4},"encoding":{"x":{"datum":1,"type":"quantitative"}}},
  {"mark":{"type":"rule","stroke":"#000","strokeWidth":2},"encoding":{"y":{"datum":1,"type":"quantitative","scale":{"domain":[0,1]},"axis":null}}}
 ]},
{"width":31,"height":110,"mark":{"type":"rect","opacity":0}},
{"width":406,"height":110,"title":{"text":"Record Comments","fontSize":26,"anchor":"middle","dx":-1,"offset":-29},
 "layer":[
  {"mark":{"type":"rule","stroke":"#000","strokeWidth":2},"encoding":{"x":{"datum":0,"type":"quantitative","scale":{"domain":[0,1]},"axis":null}}},
  {"mark":{"type":"rule","stroke":"#000","strokeWidth":2},"encoding":{"x":{"datum":1,"type":"quantitative"}}},
  {"mark":{"type":"rule","stroke":"#000","strokeWidth":2},"encoding":{"y":{"datum":1,"type":"quantitative","scale":{"domain":[0,1]},"axis":null}}}
 ]}
]}
]}
